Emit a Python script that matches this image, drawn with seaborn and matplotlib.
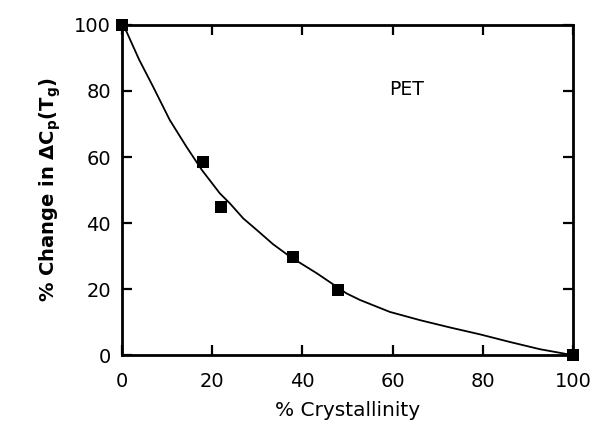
import matplotlib
matplotlib.use("Agg")
import matplotlib.pyplot as plt
import seaborn as sns
import pandas as pd

# Measured data: % crystallinity vs % change in ΔCp at Tg
crystallinity = [0, 18, 22, 38, 48, 100]
change_cp = [100, 58.5, 44.8, 29.7, 19.6, 0]

# Smooth guide curve through the data
curve_x = [0, 1.0, 3.8, 6.9, 10.6, 14.3, 17.7, 21.7, 23.9, 26.9, 29.9,
           33.5, 37.3, 43.2, 49.8, 52.8, 59.4, 66.1, 72.7, 79.4, 86.0,
           92.7, 100]
curve_y = [100, 98.0, 89.5, 81.3, 71.2, 63.1, 56.1, 49.0, 46.0, 41.4, 37.9,
           33.6, 29.8, 24.8, 18.7, 16.7, 13.1, 10.6, 8.4, 6.3, 4.0,
           1.8, 0]

x_ticks = [0, 20, 40, 60, 80, 100]
y_ticks = [0, 20, 40, 60, 80, 100]

sns.set_theme(style="ticks")
plt.rcParams["font.family"] = ["DejaVu Sans"]
plt.rcParams["mathtext.fontset"] = "dejavusans"
plt.rcParams["text.color"] = "black"
plt.rcParams["axes.labelcolor"] = "black"

fig = plt.figure(figsize=(5.95, 4.30), dpi=100)
ax = fig.add_axes([0.205, 0.174, 0.758, 0.768])

pts = pd.DataFrame({"x": crystallinity, "y": change_cp})
crv = pd.DataFrame({"x": curve_x, "y": curve_y})

sns.lineplot(data=crv, x="x", y="y", ax=ax, color="black", linewidth=1.3,
             sort=False, estimator=None)
sns.scatterplot(data=pts, x="x", y="y", ax=ax, marker="s", s=75,
                color="black", edgecolor="black", linewidth=0, zorder=5,
                clip_on=False)

ax.set_xlim(0, 100)
ax.set_ylim(0, 100)
ax.set_xticks(x_ticks)
ax.set_yticks(y_ticks)
ax.tick_params(direction="in", length=7, width=1.6, labelsize=14,
               top=True, right=True, colors="black", pad=8)
ax.tick_params(axis="x", pad=12)
for s in ax.spines.values():
    s.set_linewidth(2.0)
    s.set_color("black")

ax.set_xlabel("% Crystallinity", fontsize=14.5, labelpad=7, color="black")
ax.set_ylabel(r"% Change in $\mathbf{\Delta C_p(T_g)}$", fontsize=14,
              fontweight="bold", labelpad=8, color="black")

ax.text(63.2, 80.3, "PET", fontsize=13.5, ha="center", va="center",
        color="black")

fig.savefig("out.png", dpi=100, facecolor="white")
